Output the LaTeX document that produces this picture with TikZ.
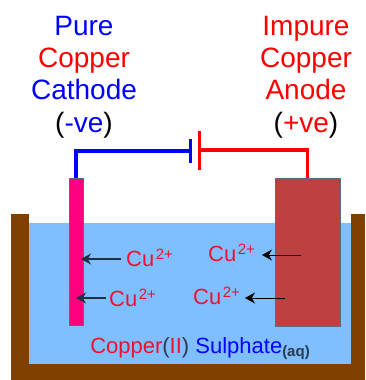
\documentclass[tikz,border=0pt]{standalone}
\usepackage{fontspec}
\setmainfont{Liberation Sans}
\usetikzlibrary{arrows.meta,positioning}
\definecolor{tankBrown}{HTML}{7F4000}
\definecolor{waterBlue}{HTML}{80BFFF}
\definecolor{cathodePink}{HTML}{FF007F}
\definecolor{anodeRed}{HTML}{BF4040}
\definecolor{edgeGray}{HTML}{5A6A80}
\definecolor{ionRed}{HTML}{F01030}
\definecolor{pureBlue}{HTML}{0000FF}
\definecolor{impureRed}{HTML}{FF0000}
\definecolor{bracketGray}{HTML}{2A3A50}
\newcommand{\copperion}{Cu\kern1.5pt\raisebox{7pt}{\fontsize{15}{15}\selectfont 2+}}
\tikzset{
  tank part/.style={fill=tankBrown,draw=none},
  electrode/.style={draw=edgeGray,line width=0.5pt,anchor=north west,inner sep=0pt,outer sep=0pt},
  head label/.style={font=\fontsize{28}{28}\selectfont,inner sep=0pt,anchor=base},
  ion label/.style={font=\fontsize{22}{22}\selectfont,text=ionRed,inner sep=0pt,anchor=base west},
  ion edge/.style={-{Stealth[length=10pt,width=11pt]},draw=black,line width=1pt},
  wire/.style={line width=3.2pt},
  plate/.style={line width=3pt}
}
\begin{document}
\begin{tikzpicture}[x=1pt,y=-1pt]
  \useasboundingbox (0,0) rectangle (365,380);
  \fill[white] (0,0) rectangle (365,380);

  % tank and liquid
  \fill[waterBlue] (29,223) rectangle (351,364);
  \fill[tank part] (11,214) rectangle (29,380);
  \fill[tank part] (351,214) rectangle (365,380);
  \fill[tank part] (11,363.5) rectangle (365,380);

  % electrodes
  \node[electrode,fill=cathodePink,minimum width=14pt,minimum height=147pt] (cathode) at (69,178) {};
  \node[electrode,fill=anodeRed,minimum width=65pt,minimum height=148pt] (anode) at (275,178) {};

  % cell
  \coordinate (minus top) at (190,139);
  \coordinate (minus bottom) at (190,163);
  \coordinate (plus top) at (199,131);
  \coordinate (plus bottom) at (199,170);
  \coordinate (minus mid) at (190,151);
  \coordinate (plus mid) at (199,150);
  \draw[wire,pureBlue] (cathode.north) |- (minus mid);
  \draw[wire,impureRed] (anode.north) |- (plus mid);
  \draw[plate,pureBlue] (minus top) -- (minus bottom);
  \draw[plate,impureRed] (plus top) -- (plus bottom);

  % headings
  \node[head label,text=pureBlue] (pure) at (84,35) {Pure};
  \node[head label,text=impureRed] (copper left) at (84,67) {Copper};
  \node[head label,text=pureBlue] (cathode text) at (84,99) {Cathode};
  \node[head label] (minus text) at (84,132) {(\textcolor{pureBlue}{-ve})};
  \node[head label,text=impureRed] (impure) at (306,35) {Impure};
  \node[head label,text=impureRed] (copper right) at (306,67) {Copper};
  \node[head label,text=impureRed] (anode text) at (306,99) {Anode};
  \node[head label] (plus text) at (306,132) {(\textcolor{impureRed}{+ve})};

  % ions
  \node[ion label] (ion a) at (126,266) {\copperion};
  \node[ion label] (ion b) at (109,306) {\copperion};
  \node[ion label] (ion c) at (208,261) {\copperion};
  \node[ion label] (ion d) at (193,304) {\copperion};
  \coordinate (ion a start) at (121,259);
  \coordinate (ion a end) at (81,259);
  \coordinate (ion b start) at (106,298);
  \coordinate (ion b end) at (76,298);
  \coordinate (ion c start) at (301,255);
  \coordinate (ion c end) at (262,255);
  \coordinate (ion d start) at (285,298);
  \coordinate (ion d end) at (245,298);
  \draw[ion edge,line width=1.3pt,draw=black!75!waterBlue] (ion a start) -- (ion a end);
  \draw[ion edge,line width=1.3pt,draw=black!75!waterBlue] (ion b start) -- (ion b end);
  \draw[ion edge] (ion c start) -- (ion c end);
  \draw[ion edge] (ion d start) -- (ion d end);

  % liquid name
  \node[font=\fontsize{22}{22}\selectfont,inner sep=0pt,anchor=base] (liquid) at (200,353)
    {\textcolor{ionRed}{Copper}\textcolor{bracketGray}{(}\textcolor{ionRed}{II}\textcolor{bracketGray}{)} \textcolor{pureBlue}{Sulphate}\raisebox{-3pt}{\fontsize{15}{15}\selectfont\bfseries\textcolor{bracketGray}{(aq)}}};
\end{tikzpicture}
\end{document}
